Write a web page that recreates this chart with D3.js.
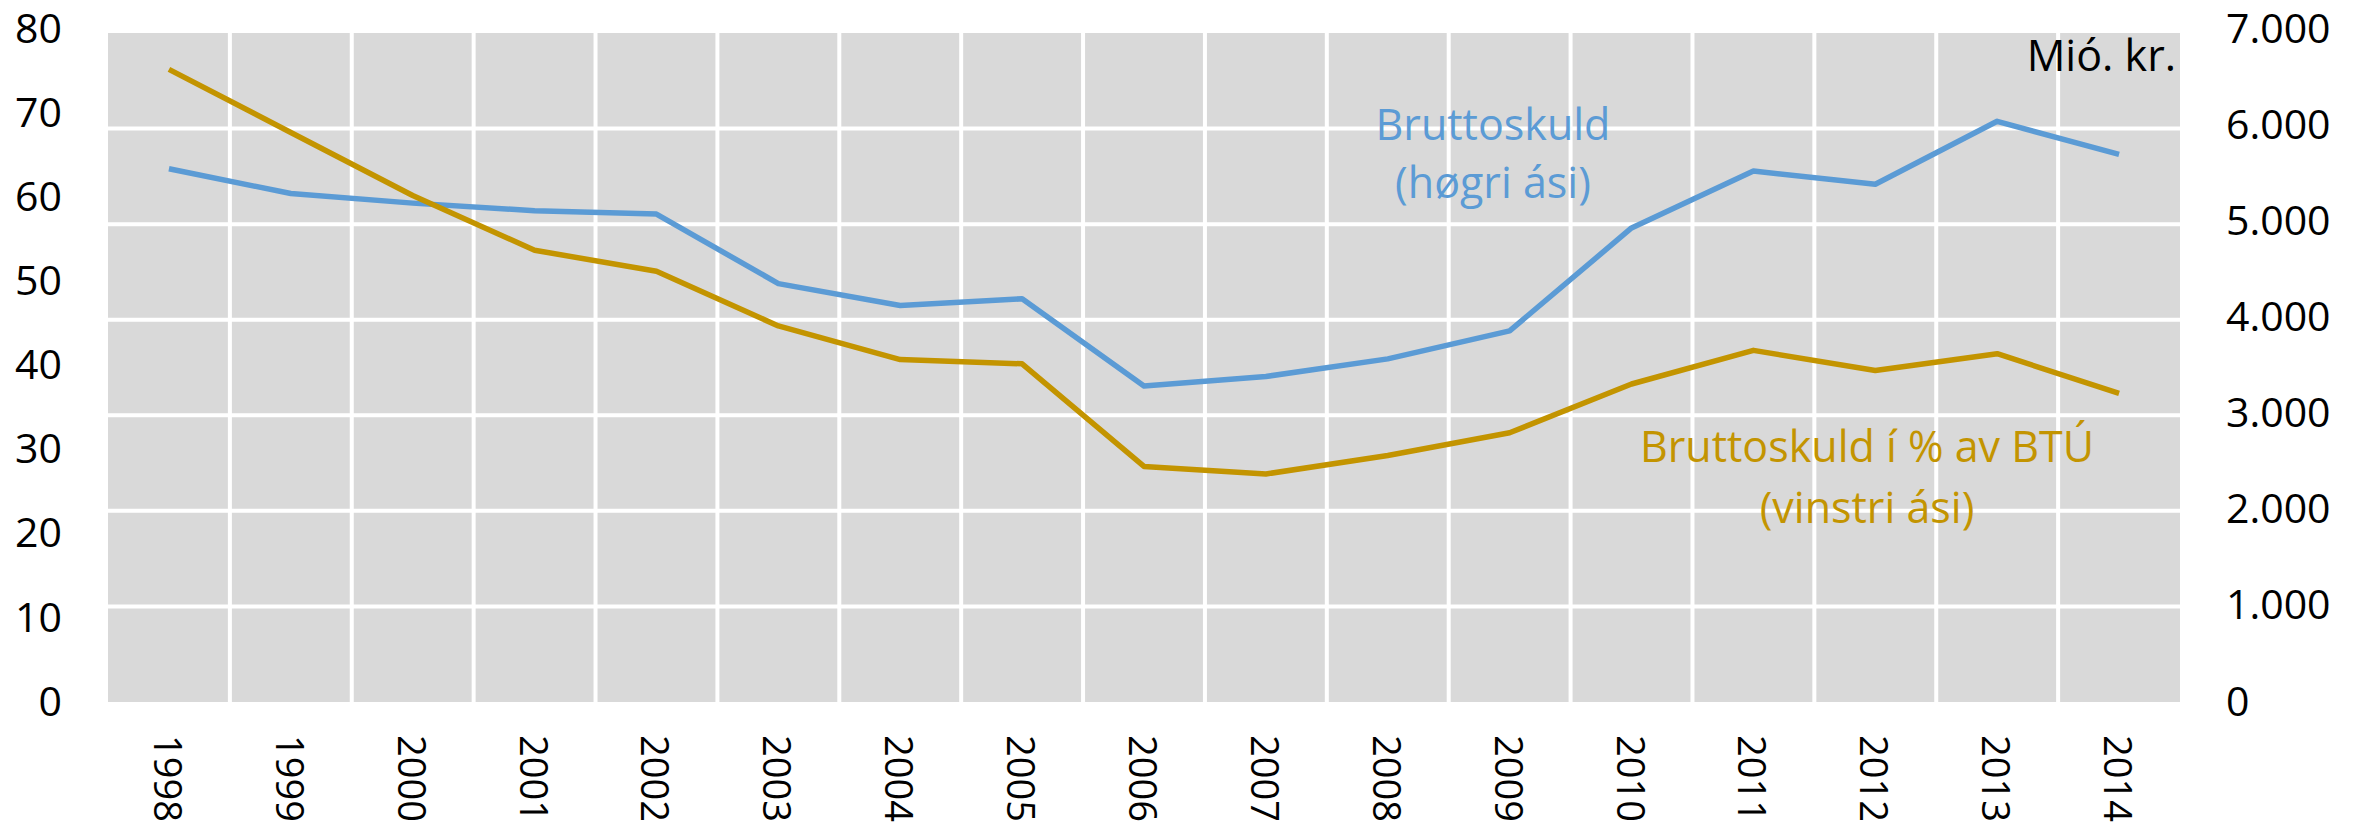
<!DOCTYPE html>
<html lang="is">
<head>
  <meta charset="UTF-8">
  <title>Bruttoskuld</title>
  <script src="https://d3js.org/d3.v7.min.js"></script>
  <style>
    body { margin: 0; background: #fff; }
    svg { display: block; font-family: "Open Sans", sans-serif; }
    .tick text { font-size: 41px; fill: #000; }
    .xaxis .tick text { font-size: 38px; }
    .note { font-size: 43px; }
  </style>
</head>
<body>
  <svg width="2356" height="826"></svg>

  <script>
    var years = ["1998", "1999", "2000", "2001", "2002", "2003", "2004", "2005", "2006",
                 "2007", "2008", "2009", "2010", "2011", "2012", "2013", "2014"];

    // Bruttoskuld í % av BTÚ (vinstri ási)
    var pctOfGdp = [75.2, 67.7, 60.2, 53.7, 51.2, 44.7, 40.7, 40.2, 28.0,
                    27.1, 29.3, 32.0, 37.8, 41.8, 39.4, 41.4, 36.7];

    // Bruttoskuld, mió. kr. (høgri ási)
    var grossDebt = [5580, 5320, 5220, 5140, 5105, 4378, 4148, 4219, 3307,
                     3406, 3590, 3883, 4960, 5556, 5417, 6076, 5729];

    var leftTicks = [0, 10, 20, 30, 40, 50, 60, 70, 80];
    var rightTicks = [0, 1000, 2000, 3000, 4000, 5000, 6000, 7000];

    var blue = "#5b9bd5",
        gold = "#c39400";

    var svg = d3.select("svg");
    var plotL = 108, plotR = 2180, plotT = 33, plotB = 702;

    var x = d3.scaleBand().domain(years).range([plotL, plotR]);
    var yL = d3.scaleLinear().domain([0, 80]).range([plotB, 29]);
    var yR = d3.scaleLinear().domain([0, 7000]).range([plotB, plotT]);

    var fo = d3.formatLocale({ decimal: ",", thousands: ".", grouping: [3], currency: ["", " kr."] }).format(",");

    // plot background
    svg.append("rect")
        .attr("x", plotL).attr("y", plotT)
        .attr("width", plotR - plotL).attr("height", plotB - plotT)
        .attr("fill", "#d9d9d9");

    // horizontal gridlines follow the right axis
    svg.selectAll(".hgrid")
        .data(rightTicks.filter(function(d) { return d > 0 && d < 7000; }))
        .enter().append("line")
        .attr("class", "hgrid")
        .attr("x1", plotL).attr("x2", plotR)
        .attr("y1", function(d) { return yR(d); })
        .attr("y2", function(d) { return yR(d); })
        .attr("stroke", "#fff").attr("stroke-width", 4);

    // vertical gridlines between categories
    svg.selectAll(".vgrid")
        .data(years.slice(1))
        .enter().append("line")
        .attr("class", "vgrid")
        .attr("x1", function(d) { return x(d); })
        .attr("x2", function(d) { return x(d); })
        .attr("y1", plotT).attr("y2", plotB)
        .attr("stroke", "#fff").attr("stroke-width", 4);

    // axes
    var gl = svg.append("g")
        .attr("transform", "translate(" + plotL + ",0)")
        .call(d3.axisLeft(yL).tickValues(leftTicks).tickSize(0).tickPadding(46));
    gl.select(".domain").remove();

    var gr = svg.append("g")
        .attr("transform", "translate(" + plotR + ",0)")
        .call(d3.axisRight(yR).tickValues(rightTicks).tickFormat(fo).tickSize(0).tickPadding(46));
    gr.select(".domain").remove();
    gr.selectAll("text").attr("dy", function(d) { return (0.32 - d / 7000 * 0.1) + "em"; });

    var gb = svg.append("g")
        .attr("class", "xaxis")
        .attr("transform", "translate(0," + plotB + ")")
        .call(d3.axisBottom(x).tickSize(0));
    gb.select(".domain").remove();
    gb.selectAll("text")
        .attr("x", 33).attr("y", 0).attr("dy", null)
        .attr("dominant-baseline", "central")
        .attr("transform", "rotate(90)")
        .style("text-anchor", "start");

    svg.selectAll("g").attr("font-size", null).attr("font-family", null);

    // lines
    var cx = function(d, i) { return x(years[i]) + x.bandwidth() / 2; };

    svg.append("path")
        .datum(grossDebt)
        .attr("fill", "none")
        .attr("stroke", blue).attr("stroke-width", 5.5)
        .attr("stroke-linejoin", "round")
        .attr("d", d3.line().x(cx).y(function(d) { return yR(d); }));

    svg.append("path")
        .datum(pctOfGdp)
        .attr("fill", "none")
        .attr("stroke", gold).attr("stroke-width", 5.5)
        .attr("stroke-linejoin", "round")
        .attr("d", d3.line().x(cx).y(function(d) { return yL(d); }));

    // labels
    svg.append("text")
        .attr("class", "note")
        .attr("x", 2176).attr("y", 71)
        .attr("text-anchor", "end")
        .attr("fill", "#000")
        .text("Mió. kr.");

    var blueNote = svg.append("text").attr("class", "note")
        .attr("text-anchor", "middle").attr("fill", blue);
    blueNote.append("tspan").attr("x", 1493).attr("y", 140).text("Bruttoskuld");
    blueNote.append("tspan").attr("x", 1493).attr("y", 198).text("(høgri ási)");

    var goldNote = svg.append("text").attr("class", "note")
        .attr("text-anchor", "middle").attr("fill", gold);
    goldNote.append("tspan").attr("x", 1867).attr("y", 462).text("Bruttoskuld í % av BTÚ");
    goldNote.append("tspan").attr("x", 1867).attr("y", 523).text("(vinstri ási)");
  </script>
</body>
</html>
